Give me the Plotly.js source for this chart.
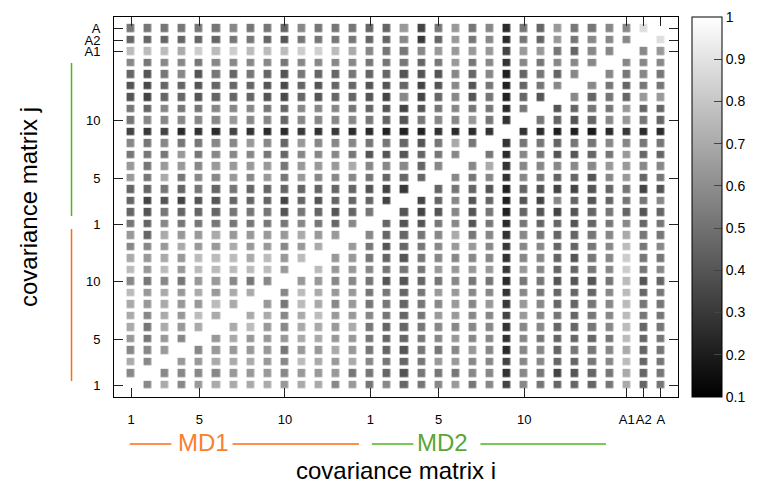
<!DOCTYPE html>
<html><head><meta charset="utf-8">
<script src="https://cdn.plot.ly/plotly-3.0.1.min.js"></script>
<style>html,body{margin:0;padding:0;background:#fff}#chart{width:766px;height:484px}</style>
</head><body><div id="chart"></div>
<script>
// covariance matrix index (1..32): MD1 = 1..14, MD2 = 15..29, A1, A2, A = 30..32
const idx = [1,2,3,4,5,6,7,8,9,10,11,12,13,14,15,16,17,18,19,20,21,22,23,24,25,26,27,28,29,30,31,32];
const tickPos = [1,5,10,15,19,24,30,31,32];
const tickText = ["1","5","10","1","5","10","A1","A2","A"];
const cbTicks = [0.1,0.2,0.3,0.4,0.5,0.6,0.7,0.8,0.9,1];

// rows j = 1 (bottom) .. 32 (top); each row lists columns i = 1..32
const r01 = [1,.58,.70,.58,.64,.70,.70,.70,.70,.64,.70,.70,.58,.64,.52,.58, .46,.52,.58,.64,.52,.58,.34,.58,.52,.46,.46,.46,.52,.70,.46,.52];
const r02 = [.58,1,.58,.58,.58,.58,.64,.64,.64,.58,.64,.64,.64,.52,.52,.46, .40,.52,.52,.52,.58,.58,.28,.58,.52,.34,.40,.46,.52,.70,.46,.52];
const r03 = [.70,.58,1,.64,.64,.70,.70,.70,.64,.58,.76,.70,.64,.70,.58,.52, .46,.52,.64,.64,.58,.58,.34,.58,.58,.46,.46,.52,.58,.76,.46,.52];
const r04 = [.58,.58,.64,1,.58,.64,.64,.64,.64,.52,.64,.64,.70,.64,.52,.46, .40,.52,.52,.58,.64,.58,.25,.58,.58,.46,.52,.52,.58,.70,.46,.52];
const r05 = [.64,.52,.64,.58,1,.64,.70,.64,.64,.64,.70,.70,.64,.64,.52,.46, .46,.52,.58,.64,.58,.58,.28,.58,.52,.46,.46,.46,.52,.76,.46,.52];
const r06 = [.70,.52,.70,.64,.70,1,.70,.76,.64,.58,.70,.70,.64,.70,.52,.46, .46,.52,.58,.58,.58,.58,.28,.58,.58,.46,.46,.52,.58,.76,.46,.52];
const r07 = [.70,.58,.70,.64,.76,.70,1,.70,.70,.58,.70,.76,.64,.64,.58,.52, .46,.52,.64,.64,.58,.58,.34,.64,.58,.52,.46,.52,.58,.76,.52,.52];
const r08 = [.70,.64,.70,.64,.64,.76,.70,1,.64,.52,.76,.70,.58,.64,.52,.52, .46,.52,.58,.64,.58,.64,.30,.64,.58,.46,.46,.52,.58,.76,.52,.52];
const r09 = [.76,.64,.70,.64,.70,.64,.70,.70,1,.58,.76,.70,.64,.64,.52,.52, .46,.52,.64,.64,.58,.58,.28,.58,.52,.46,.46,.46,.58,.76,.46,.52];
const r10 = [.58,.52,.58,.52,.64,.64,.58,.52,.58,1,.64,.64,.58,.58,.52,.40, .40,.46,.52,.58,.52,.52,.25,.52,.52,.40,.40,.40,.52,.76,.40,.46];
const r11 = [.76,.64,.76,.64,.76,.76,.76,.76,.76,.64,1,.76,.64,.64,.58,.52, .52,.52,.64,.64,.64,.64,.30,.64,.58,.46,.46,.52,.58,.82,.52,.58];
const r12 = [.70,.64,.70,.64,.76,.76,.76,.70,.76,.64,.76,1,.64,.64,.52,.46, .40,.52,.58,.58,.58,.58,.28,.58,.58,.46,.40,.52,.58,.82,.52,.52];
const r13 = [.58,.58,.64,.70,.64,.64,.70,.64,.64,.58,.64,.70,1,.64,.52,.40, .46,.52,.58,.64,.64,.58,.30,.58,.58,.46,.46,.52,.58,.76,.52,.58];
const r14 = [.64,.46,.70,.64,.64,.70,.64,.64,.64,.64,.70,.64,.64,1,.58,.46, .46,.52,.58,.70,.52,.58,.28,.58,.52,.46,.46,.52,.58,.70,.52,.52];
const r15 = [.52,.46,.58,.52,.52,.52,.52,.52,.52,.52,.58,.52,.46,.58,1,.46, .40,.40,.52,.58,.40,.52,.25,.52,.46,.46,.40,.46,.52,.58,.46,.52];
const r16 = [.46,.40,.52,.46,.46,.46,.52,.52,.52,.40,.52,.46,.40,.46,.52,1, .40,.34,.40,.58,.40,.52,.22,.46,.40,.34,.40,.46,.52,.46,.40,.46];
const r17 = [.46,.34,.40,.34,.40,.40,.46,.46,.46,.34,.46,.40,.46,.46,.46,.34, 1,.34,.46,.58,.40,.46,.22,.40,.34,.58,.46,.40,.46,.52,.52,.58];
const r18 = [.46,.46,.52,.46,.52,.46,.52,.46,.46,.46,.46,.46,.46,.46,.40,.34, .30,1,.46,.52,.46,.40,.22,.46,.40,.34,.34,.40,.46,.52,.34,.40];
const r19 = [.64,.52,.70,.52,.58,.58,.64,.58,.64,.52,.64,.58,.58,.58,.52,.46, .46,.46,1,.58,.52,.58,.28,.58,.52,.46,.46,.40,.58,.64,.46,.52];
const r20 = [.64,.52,.64,.64,.58,.64,.64,.64,.64,.52,.64,.64,.64,.70,.58,.58, .58,.46,.58,1,.58,.70,.28,.58,.58,.58,.58,.58,.64,.64,.58,.58];
const r21 = [.52,.52,.52,.64,.52,.58,.58,.58,.52,.46,.58,.58,.58,.52,.40,.40, .40,.46,.52,.58,1,.52,.25,.58,.52,.40,.40,.46,.52,.64,.46,.46];
const r22 = [.58,.52,.58,.52,.52,.58,.58,.64,.58,.46,.64,.58,.58,.58,.52,.52, .46,.40,.52,.70,.52,1,.28,.52,.52,.46,.52,.52,.58,.58,.52,.52];
const r23 = [.34,.30,.34,.25,.28,.25,.34,.28,.25,.25,.30,.28,.30,.25,.25,.22, .22,.22,.28,.25,.25,.28,1,.28,.25,.21,.21,.19,.25,.30,.25,.25];
const r24 = [.52,.58,.58,.58,.58,.58,.64,.58,.58,.46,.58,.58,.58,.58,.52,.46, .40,.52,.58,.58,.64,.52,.28,1,.52,.46,.40,.46,.58,.64,.52,.46];
const r25 = [.52,.46,.58,.52,.52,.58,.58,.58,.52,.46,.58,.58,.58,.52,.46,.40, .34,.40,.52,.58,.52,.52,.25,.52,1,.40,.46,.52,.52,.64,.46,.46];
const r26 = [.40,.34,.46,.46,.40,.46,.46,.46,.40,.36,.46,.40,.46,.46,.40,.34, .58,.34,.46,.58,.40,.52,.22,.46,.40,1,.58,.46,.52,.46,.64,.64];
const r27 = [.40,.36,.46,.46,.40,.46,.46,.46,.40,.36,.46,.40,.46,.46,.40,.40, .46,.34,.40,.58,.40,.52,.22,.46,.52,.58,1,.58,.52,.46,.52,.52];
const r28 = [.46,.40,.52,.58,.40,.52,.46,.52,.46,.40,.52,.46,.46,.52,.46,.46, .40,.40,.40,.58,.46,.58,.22,.46,.52,.46,.58,1,.58,.52,.58,.52];
const r29 = [.58,.52,.58,.58,.52,.58,.58,.58,.58,.52,.58,.58,.58,.58,.52,.52, .52,.46,.52,.64,.52,.58,.28,.58,.52,.58,.58,.58,1,.58,.58,.58];
const r30 = [.76,.76,.76,.70,.82,.76,.82,.76,.76,.76,.82,.83,.76,.70,.58,.52, .52,.58,.64,.64,.64,.64,.34,.64,.64,.52,.46,.58,.58,1,.58,.64];
const r31 = [.46,.46,.46,.46,.46,.46,.52,.52,.46,.40,.52,.52,.52,.52,.46,.46, .58,.30,.46,.64,.52,.58,.25,.52,.46,.64,.52,.58,.58,.58,1,.88];
const r32 = [.52,.52,.52,.52,.52,.52,.58,.52,.52,.46,.58,.52,.52,.52,.46,.46, .64,.34,.52,.64,.52,.58,.25,.52,.46,.64,.52,.52,.58,.58,.88,1];
const z = [r01,r02,r03,r04,r05,r06,r07,r08,r09,r10,r11,r12,r13,r14,r15,r16,
           r17,r18,r19,r20,r21,r22,r23,r24,r25,r26,r27,r28,r29,r30,r31,r32];

const FONT = 'Liberation Sans, Arial, Helvetica, sans-serif';
const ORANGE = '#ff6a14', ORANGE_T = '#f9802f';
const GREEN = '#4cb51c', GREEN_T = '#5aa636';

// layout geometry (pixels)
const W = 766, H = 484, ML = 114, MR = 81, MT = 17, MB = 87;
const PW = W - ML - MR, PH = H - MT - MB;
const px = x => (x - ML) / PW;
const py = y => (H - MB - y) / PH;
const cbX = px(699);

const trace = {
  type: 'heatmap', x: idx, y: idx, z: z,
  zmin: 0.1, zmax: 1,
  colorscale: [[0, '#000000'], [1, '#ffffff']],
  xgap: 9.3, ygap: 3.6,
  hoverinfo: 'skip',
  colorbar: {
    x: cbX, xanchor: 'left', xpad: 0, y: 0.5, yanchor: 'middle', ypad: 0,
    len: 1, lenmode: 'fraction', thickness: 30, thicknessmode: 'pixels',
    outlinewidth: 1, outlinecolor: '#000',
    tickmode: 'array', tickvals: cbTicks, ticktext: cbTicks.map(String),
    ticks: 'inside', ticklen: 8, tickcolor: '#444', tickwidth: 1,
    tickfont: {family: FONT, size: 14, color: '#000'}
  }
};

const shapes = [];
// left-side colorbar ticks
cbTicks.slice(1, -1).forEach(v => {
  const yy = (v - 0.1) / 0.9;
  shapes.push({type: 'line', xref: 'paper', yref: 'paper', x0: cbX, x1: cbX + 8 / PW, y0: yy, y1: yy,
               line: {color: '#444', width: 1}});
});
// group markers (MD1 / MD2)
function hline(x0, x1, y, c) { shapes.push({type: 'line', xref: 'paper', yref: 'paper', x0: px(x0), x1: px(x1), y0: py(y), y1: py(y), line: {color: c, width: 1.5}}); }
function vline(x, y0, y1, c) { shapes.push({type: 'line', xref: 'paper', yref: 'paper', x0: px(x), x1: px(x), y0: py(y0), y1: py(y1), line: {color: c, width: 1.5}}); }
hline(130, 172, 444, ORANGE); hline(234, 362, 444, ORANGE);
hline(375, 417, 444, GREEN); hline(485, 612, 444, GREEN);
vline(71, 229, 381, ORANGE); vline(71, 63, 216, GREEN);

const annotations = [
  {text: 'MD1', xref: 'paper', yref: 'paper', x: px(205), y: py(442), showarrow: false, xanchor: 'center', yanchor: 'middle',
   font: {family: FONT, size: 24, color: ORANGE_T}},
  {text: 'MD2', xref: 'paper', yref: 'paper', x: px(447), y: py(442), showarrow: false, xanchor: 'center', yanchor: 'middle',
   font: {family: FONT, size: 24, color: GREEN_T}}
];

const axisCommon = {
  range: [0, 33], tickmode: 'array', tickvals: tickPos, ticktext: tickText,
  ticks: 'inside', ticklen: 9, tickwidth: 1, tickcolor: '#222', tickangle: 0,
  showline: true, linecolor: '#000', linewidth: 1, mirror: 'ticks',
  showgrid: false, zeroline: false, fixedrange: true,
  tickfont: {family: FONT, size: 13, color: '#000'}
};

const layout = {
  width: W, height: H,
  margin: {l: ML, r: MR, t: MT, b: MB},
  paper_bgcolor: '#fff', plot_bgcolor: '#fff',
  font: {family: FONT, color: '#000'},
  xaxis: Object.assign({}, axisCommon, {
    ticklabelstandoff: 10,
    title: {text: 'covariance matrix i', font: {family: FONT, size: 24, color: '#000'}, standoff: 36}
  }),
  yaxis: Object.assign({}, axisCommon, {
    ticklabelstandoff: 10,
    title: {text: 'covariance matrix j', font: {family: FONT, size: 24, color: '#000'}, standoff: 40}
  }),
  shapes: shapes,
  annotations: annotations,
  showlegend: false
};

Plotly.newPlot('chart', [trace], layout, {displayModeBar: false, staticPlot: true});
</script>
</body></html>
